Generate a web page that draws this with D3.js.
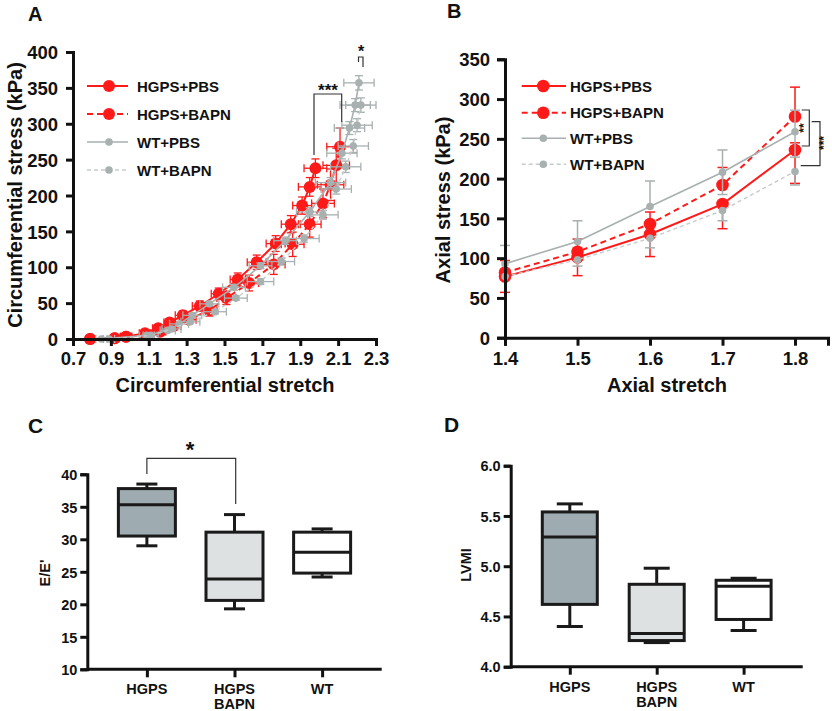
<!DOCTYPE html>
<html><head><meta charset="utf-8">
<script src="https://cdn.jsdelivr.net/npm/d3@7"></script>
<style>
body{margin:0;background:#fff;}
text{font-family:"Liberation Sans",Arial,sans-serif;font-weight:bold;fill:#111;}
</style></head>
<body><svg id="c" width="832" height="711"></svg>
<script>
// ---------- Panel A data: circumferential stretch vs stress ----------
const seriesNames = ["HGPS+PBS","HGPS+BAPN","WT+PBS","WT+BAPN"];
const aHgpsPbsX   = [0.79,0.92,0.98,1.08,1.15,1.21,1.28,1.37,1.47,1.57,1.67,1.77,1.85,1.91,1.95,1.98];
const aHgpsPbsY   = [0,1,3,8,15,23,33,46,63,83,107,133,160,186,212,238];
const aHgpsPbsXe  = [0.02,0.02,0.03,0.03,0.03,0.03,0.04,0.04,0.04,0.04,0.05,0.05,0.05,0.05,0.06,0.06];
const aHgpsPbsYe  = [1,1,2,3,4,5,6,7,8,9,10,11,12,12,13,13];
const aHgpsBapnX  = [0.79,0.92,0.98,1.09,1.16,1.23,1.31,1.42,1.51,1.63,1.76,1.86,1.95,2.02,2.06,2.09,2.11];
const aHgpsBapnY  = [0,1,3,6,10,18,27,40,57,78,104,132,160,189,215,242,268];
const aHgpsBapnXe = [0.02,0.02,0.03,0.03,0.03,0.04,0.04,0.04,0.05,0.05,0.06,0.06,0.06,0.06,0.07,0.07,0.07];
const aHgpsBapnYe = [1,1,2,3,4,5,6,8,9,11,14,17,18,20,22,24,26];
const aWtPbsX     = [0.85,1.09,1.20,1.26,1.33,1.42,1.55,1.69,1.82,1.95,2.06,2.12,2.16,2.19,2.21];
const aWtPbsY     = [0,5,12,21,33,49,72,102,137,177,218,259,294,326,357];
const aWtPbsXe    = [0.03,0.04,0.04,0.05,0.05,0.05,0.06,0.06,0.06,0.07,0.08,0.08,0.08,0.08,0.08];
const aWtPbsYe    = [1,1,2,2,3,3,4,4,5,6,7,8,9,9,10];
const aWtBapnX    = [0.89,1.11,1.22,1.32,1.45,1.56,1.69,1.80,1.92,2.02,2.09,2.14,2.18,2.20,2.22];
const aWtBapnY    = [0,5,14,24,38,57,80,108,140,173,209,240,269,298,326];
const aWtBapnXe   = [0.03,0.04,0.05,0.05,0.06,0.06,0.07,0.07,0.08,0.08,0.08,0.08,0.08,0.08,0.08];
const aWtBapnYe   = [1,1,2,2,3,3,4,5,5,6,7,8,9,9,10];
const aXTicks = [0.7,0.9,1.1,1.3,1.5,1.7,1.9,2.1,2.3];
const aYTicks = [0,50,100,150,200,250,300,350,400];

// ---------- Panel B data: axial stretch vs stress ----------
const bX = [1.4,1.5,1.6,1.7,1.8];
const bHgpsPbs   = [77,101,130,168,236];
const bHgpsPbsLo = [20,23,28,31,42];
const bHgpsPbsHi = [0,0,0,0,9];
const bHgpsBapn  = [82,108,143,192,278];
const bHgpsBapnLo= [0,0,0,0,0];
const bHgpsBapnHi= [15,16,15,22,37];
const bWtPbs     = [93,121,165,208,259];
const bWtPbsLo   = [0,0,0,28,32];
const bWtPbsHi   = [23,26,32,28,27];
const bWtBapn    = [77,98,125,160,209];
const bWtBapnLo  = [0,8,12,13,17];
const bWtBapnHi  = [0,0,0,0,0];
const bYTicks = [0,50,100,150,200,250,300,350];

// ---------- Panel C / D box plots ----------
const boxCats = ["HGPS","HGPS BAPN","WT"];
const eeMin = [29.0,19.3,24.2];
const eeQ1  = [30.5,20.6,24.8];
const eeMed = [35.3,23.9,28.0];
const eeQ3  = [37.8,31.1,31.1];
const eeMax = [38.5,33.8,31.6];
const eeTicks = [10,15,20,25,30,35,40];
const lvMin = [4.40,4.24,4.36];
const lvQ1  = [4.62,4.26,4.47];
const lvMed = [5.29,4.33,4.80];
const lvQ3  = [5.54,4.82,4.86];
const lvMax = [5.62,4.98,4.88];
const lvTicks = [4.0,4.5,5.0,5.5,6.0];
const boxFills = ["#9eabb0","#dde1e1","#ffffff"];

const RED = "#ff1a1a", GRAY = "#a8b0b0", LGRAY = "#c6cbcb";
const svg = d3.select("#c");
svg.append("rect").attr("width",832).attr("height",711).attr("fill","#fff");

function styleAxis(g, w){
  g.select(".domain").attr("stroke","#111").attr("stroke-width",w);
  g.selectAll(".tick line").attr("stroke","#111").attr("stroke-width",w);
  g.selectAll(".tick text").attr("fill","#111");
}
function label(x,y,t,size,anchor,rot){
  const e = svg.append("text").attr("font-size",size).attr("text-anchor",anchor||"start").text(t);
  if(rot){ e.attr("transform",`translate(${x},${y}) rotate(${rot})`); } else { e.attr("x",x).attr("y",y); }
  return e;
}

// =================== PANEL A ===================
const ax = d3.scaleLinear().domain([0.7,2.3]).range([73,376]);
const ay = d3.scaleLinear().domain([0,400]).range([339,52]);
const aSeries = [
  {x:aHgpsPbsX,y:aHgpsPbsY,xe:aHgpsPbsXe,ye:aHgpsPbsYe,color:RED,ecolor:RED,dash:null,r:6,w:2},
  {x:aHgpsBapnX,y:aHgpsBapnY,xe:aHgpsBapnXe,ye:aHgpsBapnYe,color:RED,ecolor:RED,dash:"6,4",r:6,w:2},
  {x:aWtPbsX,y:aWtPbsY,xe:aWtPbsXe,ye:aWtPbsYe,color:GRAY,ecolor:GRAY,dash:null,r:3.8,w:1.6},
  {x:aWtBapnX,y:aWtBapnY,xe:aWtBapnXe,ye:aWtBapnYe,color:LGRAY,ecolor:GRAY,dash:"4,3",r:3.8,w:1.4}
];
const gA = svg.append("g");
aSeries.forEach(s=>{
  const g = gA.append("g");
  const pts = s.x.map((v,i)=>[v,s.y[i]]);
  pts.forEach((p,i)=>{
    const px=ax(p[0]), py=ay(p[1]);
    const x0=ax(p[0]-s.xe[i]), x1=ax(p[0]+s.xe[i]);
    g.append("line").attr("x1",x0).attr("x2",x1).attr("y1",py).attr("y2",py).attr("stroke",s.ecolor).attr("stroke-width",1.3);
    [x0,x1].forEach(xx=>g.append("line").attr("x1",xx).attr("x2",xx).attr("y1",py-4).attr("y2",py+4).attr("stroke",s.ecolor).attr("stroke-width",1.3));
    if(s.ye[i]>2){
      const y0=ay(p[1]-s.ye[i]), y1=ay(p[1]+s.ye[i]);
      g.append("line").attr("x1",px).attr("x2",px).attr("y1",y0).attr("y2",y1).attr("stroke",s.ecolor).attr("stroke-width",1.3);
      [y0,y1].forEach(yy=>g.append("line").attr("x1",px-4).attr("x2",px+4).attr("y1",yy).attr("y2",yy).attr("stroke",s.ecolor).attr("stroke-width",1.3));
    }
  });
  g.append("path").attr("d",d3.line().x(d=>ax(d[0])).y(d=>ay(d[1]))(pts))
    .attr("fill","none").attr("stroke",s.color).attr("stroke-width",s.w).attr("stroke-dasharray",s.dash);
  g.selectAll("circle").data(pts).join("circle").attr("cx",d=>ax(d[0])).attr("cy",d=>ay(d[1])).attr("r",s.r)
    .attr("fill",s.color===LGRAY?GRAY:s.color);
});
const axA = svg.append("g").attr("transform","translate(0,339)")
  .call(d3.axisBottom(ax).tickValues(aXTicks).tickFormat(d3.format(".1f")).tickSizeOuter(0).tickSize(7).tickPadding(6));
axA.selectAll("text").attr("font-size",18.5);
styleAxis(axA,3);
const ayA = svg.append("g").attr("transform","translate(73,0)")
  .call(d3.axisLeft(ay).tickValues(aYTicks).tickSizeOuter(0).tickSize(7).tickPadding(8));
ayA.selectAll("text").attr("font-size",18.5).attr("dy","0.36em");
styleAxis(ayA,3);
label(225,392,"Circumferential stretch",20,"middle");
label(22,195,"Circumferential stress (kPa)",20,"middle",-90);
label(28,21,"A",20,"start");
[86,114,142,170].forEach((yy,i)=>{
  const s=aSeries[i];
  svg.append("line").attr("x1",87).attr("x2",128).attr("y1",yy).attr("y2",yy).attr("stroke",s.color).attr("stroke-width",s.w).attr("stroke-dasharray",s.dash);
  svg.append("circle").attr("cx",109).attr("cy",yy).attr("r",s.r).attr("fill",s.color===LGRAY?GRAY:s.color);
  label(137,yy+5.5,seriesNames[i],15,"start");
});
function poly(pts,color,w){ svg.append("path").attr("d",d3.line()(pts)).attr("fill","none").attr("stroke",color||"#333").attr("stroke-width",w||1.2); }
poly([[314,155],[314,94],[341.7,94],[341.7,122]]);
label(328,96,"***",17,"middle");
poly([[358.5,62],[358.5,57],[363,57],[363,67]]);
label(361,57,"*",16,"middle");

// =================== PANEL B ===================
const bx = d3.scaleLinear().domain([1.4,1.8455]).range([505,828]);
const by = d3.scaleLinear().domain([0,350]).range([337.7,59.3]);
const bSeries = [
  {v:bHgpsPbs,lo:bHgpsPbsLo,hi:bHgpsPbsHi,color:RED,ecolor:RED,dash:null,r:6.3,w:2},
  {v:bHgpsBapn,lo:bHgpsBapnLo,hi:bHgpsBapnHi,color:RED,ecolor:RED,dash:"6,4",r:6.3,w:2},
  {v:bWtPbs,lo:bWtPbsLo,hi:bWtPbsHi,color:GRAY,ecolor:GRAY,dash:null,r:3.8,w:1.6},
  {v:bWtBapn,lo:bWtBapnLo,hi:bWtBapnHi,color:LGRAY,ecolor:GRAY,dash:"4,3",r:3.8,w:1.4}
];
bSeries.forEach(s=>{
  const g = svg.append("g");
  s.v.forEach((val,i)=>{
    const px=bx(bX[i]);
    const y0=by(val-s.lo[i]), y1=by(val+s.hi[i]);
    if(s.lo[i]>0||s.hi[i]>0){
      g.append("line").attr("x1",px).attr("x2",px).attr("y1",y0).attr("y2",y1).attr("stroke",s.ecolor).attr("stroke-width",1.5);
      if(s.lo[i]>0) g.append("line").attr("x1",px-5).attr("x2",px+5).attr("y1",y0).attr("y2",y0).attr("stroke",s.ecolor).attr("stroke-width",1.5);
      if(s.hi[i]>0) g.append("line").attr("x1",px-5).attr("x2",px+5).attr("y1",y1).attr("y2",y1).attr("stroke",s.ecolor).attr("stroke-width",1.5);
    }
  });
  g.append("path").attr("d",d3.line().x((d,i)=>bx(bX[i])).y(d=>by(d))(s.v))
    .attr("fill","none").attr("stroke",s.color).attr("stroke-width",s.w).attr("stroke-dasharray",s.dash);
  g.selectAll("circle").data(s.v).join("circle").attr("cx",(d,i)=>bx(bX[i])).attr("cy",d=>by(d)).attr("r",s.r)
    .attr("fill",s.color===LGRAY?GRAY:s.color);
});
const axB = svg.append("g").attr("transform","translate(0,337.7)")
  .call(d3.axisBottom(bx).tickValues(bX).tickFormat(d3.format(".1f")).tickSizeOuter(0).tickSize(8).tickPadding(6));
axB.selectAll("text").attr("font-size",18.5);
styleAxis(axB,3);
const ayB = svg.append("g").attr("transform","translate(505,0)")
  .call(d3.axisLeft(by).tickValues(bYTicks).tickSizeOuter(0).tickSize(8).tickPadding(7));
ayB.selectAll("text").attr("font-size",18.5).attr("dy","0.36em");
styleAxis(ayB,3);
label(667,392,"Axial stretch",20,"middle");
label(450,200,"Axial stress (kPa)",20,"middle",-90);
label(447,18,"B",20,"start");
[86,112.7,138.3,164.3].forEach((yy,i)=>{
  const s=bSeries[i];
  svg.append("line").attr("x1",521.7).attr("x2",566).attr("y1",yy).attr("y2",yy).attr("stroke",s.color).attr("stroke-width",s.w).attr("stroke-dasharray",s.dash);
  svg.append("circle").attr("cx",543.3).attr("cy",yy).attr("r",s.r).attr("fill",s.color===LGRAY?GRAY:s.color);
  label(570,yy+5.5,seriesNames[i],15,"start");
});
poly([[801.7,110],[809.3,110],[809.3,146],[801.7,146]]);
label(808,128,"**",12,"middle",-90);
poly([[811.7,121.7],[820,121.7],[820,165.7],[800.7,165.7]]);
label(828,143,"***",12,"middle",-90);

// =================== BOX PANELS ===================
function boxPanel(opt){
  const x = d3.scalePoint().domain(boxCats).range([opt.x0,opt.x1]).padding(0.68);
  const y = d3.scaleLinear().domain(opt.domain).range([opt.yb,opt.yt]);
  const bw = opt.bw, cw = opt.cw;
  boxCats.forEach((c,i)=>{
    const cx = x(c);
    const g = svg.append("g").attr("stroke","#1a1a1a").attr("stroke-width",3);
    g.append("line").attr("x1",cx).attr("x2",cx).attr("y1",y(opt.max[i])).attr("y2",y(opt.q3[i]));
    g.append("line").attr("x1",cx).attr("x2",cx).attr("y1",y(opt.q1[i])).attr("y2",y(opt.min[i]));
    g.append("line").attr("x1",cx-cw/2).attr("x2",cx+cw/2).attr("y1",y(opt.max[i])).attr("y2",y(opt.max[i]));
    g.append("line").attr("x1",cx-cw/2).attr("x2",cx+cw/2).attr("y1",y(opt.min[i])).attr("y2",y(opt.min[i]));
    g.append("rect").attr("x",cx-bw/2).attr("width",bw).attr("y",y(opt.q3[i])).attr("height",y(opt.q1[i])-y(opt.q3[i])).attr("fill",boxFills[i]);
    g.append("line").attr("x1",cx-bw/2).attr("x2",cx+bw/2).attr("y1",y(opt.med[i])).attr("y2",y(opt.med[i]));
  });
  const gx = svg.append("g").attr("transform",`translate(0,${opt.yb})`)
    .call(d3.axisBottom(x).tickSizeOuter(0).tickSize(8).tickFormat(""));
  gx.select(".domain").attr("d",`M${opt.x0},0H${opt.x1}`);
  styleAxis(gx,3);
  boxCats.forEach(c=>{
    const parts=c.split(" ");
    parts.forEach((p,j)=>label(x(c),opt.yb+opt.lab+j*15.5,p,14.5,"middle"));
  });
  const gy = svg.append("g").attr("transform",`translate(${opt.x0},0)`)
    .call(d3.axisLeft(y).tickValues(opt.ticks).tickFormat(opt.fmt).tickSizeOuter(0).tickSize(7).tickPadding(3));
  gy.selectAll("text").attr("font-size",14.5).attr("dy","0.36em");
  styleAxis(gy,3);
  return {x,y};
}
const C = boxPanel({x0:87.3,x1:381.7,yb:669.3,yt:474.3,domain:[10,40],min:eeMin,q1:eeQ1,med:eeMed,q3:eeQ3,max:eeMax,
  ticks:eeTicks,fmt:d3.format("d"),bw:57,cw:21,lab:24.5});
label(50,573,"E/E'",14.5,"middle",-90);
label(28,433,"C",21,"start");
poly([[C.x("HGPS"),474],[C.x("HGPS"),458.3],[235.7,458.3],[235.7,504]],"#333",1.2);
label(190,457,"*",22,"middle");

const D = boxPanel({x0:510.7,x1:802.7,yb:666.7,yt:465.7,domain:[4,6],min:lvMin,q1:lvQ1,med:lvMed,q3:lvQ3,max:lvMax,
  ticks:lvTicks,fmt:d3.format(".1f"),bw:55,cw:26,lab:25});
label(471,565,"LVMI",14.5,"middle",-90);
label(444,432,"D",21,"start");
</script></body></html>
